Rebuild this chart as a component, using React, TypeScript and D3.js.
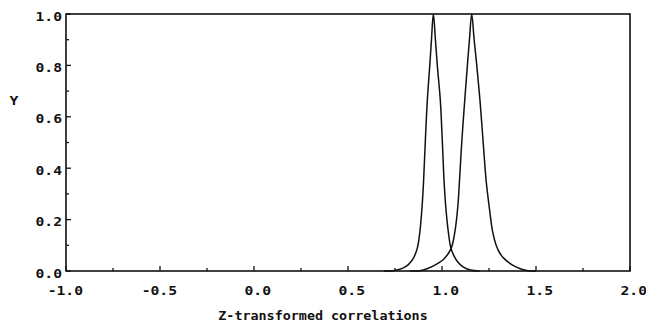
import React from "react";
import * as d3 from "d3";

// Curve 1 (left peak): [z, y]
const curveA: [number, number][] = [
  [0.69, 0], [0.741, 0.001], [0.789, 0.01], [0.821, 0.025], [0.848, 0.05],
  [0.869, 0.09], [0.882, 0.15], [0.894, 0.25], [0.902, 0.35], [0.911, 0.5],
  [0.922, 0.665], [0.935, 0.8], [0.944, 0.9], [0.954, 1.0], [0.965, 0.9],
  [0.975, 0.8], [0.991, 0.665], [1.002, 0.5], [1.011, 0.35], [1.020, 0.25],
  [1.034, 0.15], [1.047, 0.09], [1.063, 0.06], [1.084, 0.035], [1.114, 0.015],
  [1.151, 0.004], [1.20, 0],
];
// Curve 2 (right peak)
const curveB: [number, number][] = [
  [0.83, 0], [0.881, 0.001], [0.924, 0.01], [0.967, 0.025], [1.014, 0.05],
  [1.048, 0.087], [1.068, 0.15], [1.084, 0.25], [1.093, 0.35], [1.105, 0.5],
  [1.121, 0.665], [1.135, 0.8], [1.146, 0.9], [1.158, 1.0], [1.171, 0.9],
  [1.185, 0.8], [1.202, 0.665], [1.219, 0.5], [1.235, 0.35], [1.251, 0.25],
  [1.270, 0.15], [1.288, 0.1], [1.307, 0.07], [1.328, 0.05], [1.371, 0.025],
  [1.413, 0.01], [1.450, 0.002], [1.50, 0],
];
const xTickLabels = [-1.0, -0.5, 0.0, 0.5, 1.0, 1.5, 2.0];
const xMinorTicks = [-0.75, -0.25, 0.25, 0.75, 1.25, 1.75];
const yTickLabels = [0.0, 0.2, 0.4, 0.6, 0.8, 1.0];
const yMinorTicks = [0.1, 0.3, 0.5, 0.7, 0.9];
const xTitle = "Z-transformed correlations";
const yTitle = "Y";

const W = 646, H = 331;
const L = 66, R = 630, T = 14, B = 271;
const FONT = "'DejaVu Sans Mono', monospace";
const SX = 1.13;
const ADV = 7.8 * SX;

function Txt({ x, y, s, anchor = "start", sx = SX }: { x: number; y: number; s: string; anchor?: string; sx?: number }) {
  return (
    <text
      transform={`translate(${x},${y}) scale(${sx},1)`}
      textAnchor={anchor}
      fontFamily={FONT}
      fontWeight="bold"
      fontSize={13}
      fill="#111"
    >
      {s}
    </text>
  );
}

export default function App() {
  const x = d3.scaleLinear().domain([-1, 2]).range([L, R]);
  const y = d3.scaleLinear().domain([0, 1]).range([B, T]);
  const line = d3
    .line<[number, number]>()
    .x((d) => x(d[0]))
    .y((d) => y(d[1]))
    .curve(d3.curveCatmullRom.alpha(0.5));

  return (
    <svg width={W} height={H} style={{ position: "absolute", left: 0, top: 0, background: "#fff" }}>
      <rect x={0} y={0} width={W} height={H} fill="#fff" />
      {/* frame */}
      <rect x={L} y={T} width={R - L} height={B - T} fill="none" stroke="#111" strokeWidth={1.6} />
      {/* x ticks */}
      {xTickLabels.map((v) => (
        <line key={"xt" + v} x1={x(v)} x2={x(v)} y1={B} y2={B - 5} stroke="#111" strokeWidth={1.3} />
      ))}
      {xMinorTicks.map((v) => (
        <line key={"xm" + v} x1={x(v)} x2={x(v)} y1={B} y2={B - 3} stroke="#111" strokeWidth={1.3} />
      ))}
      {/* y ticks */}
      {yTickLabels.map((v) => (
        <line key={"yt" + v} x1={L} x2={L + 5} y1={y(v)} y2={y(v)} stroke="#111" strokeWidth={1.3} />
      ))}
      {yMinorTicks.map((v) => (
        <line key={"ym" + v} x1={L} x2={L + 3} y1={y(v)} y2={y(v)} stroke="#111" strokeWidth={1.3} />
      ))}
      {/* curves */}
      <path d={line(curveA) || ""} fill="none" stroke="#111" strokeWidth={1.5} />
      <path d={line(curveB) || ""} fill="none" stroke="#111" strokeWidth={1.5} />
      {/* x labels */}
      {xTickLabels.map((v) => (
        <Txt key={"xl" + v} x={x(v) - 9.5 - (v < 0 ? ADV : 0)} y={295} s={v.toFixed(1)} />
      ))}
      {/* y labels */}
      {yTickLabels.map((v) => (
        <Txt key={"yl" + v} x={62} y={y(v) + 6.5} s={v.toFixed(1)} anchor="end" />
      ))}
      <Txt x={14} y={105} s={yTitle} anchor="middle" />
      <Txt x={323} y={320} s={xTitle} anchor="middle" sx={1.03} />
    </svg>
  );
}
